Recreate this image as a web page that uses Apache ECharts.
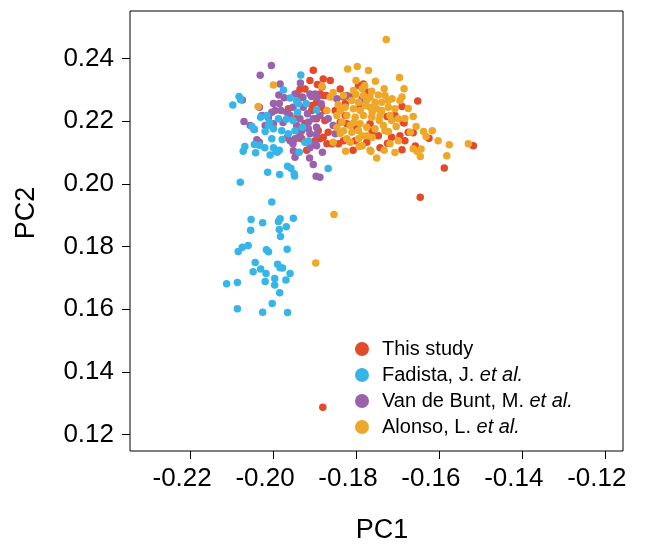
<!DOCTYPE html>
<html>
<head>
<meta charset="utf-8">
<script src="https://cdn.jsdelivr.net/npm/echarts@6/dist/echarts.min.js"></script>
<style>
  html, body { margin: 0; padding: 0; background: #fff; }
  #chart { width: 645px; height: 545px; }
</style>
</head>
<body>
<div id="chart"></div>
<script>
// PCA scores (PC1, PC2) per sample, one array per data source
const thisStudy = [
  [-0.1903,0.2363],[-0.1911,0.2330],[-0.1893,0.2317],[-0.1882,0.2309],[-0.1935,0.2302],[-0.1923,0.2303],
  [-0.1943,0.2287],[-0.1887,0.2287],[-0.1872,0.2282],[-0.1963,0.2240],[-0.1931,0.2277],[-0.1867,0.2165],
  [-0.1887,0.2144],[-0.1931,0.2144],[-0.1899,0.2138],[-0.1919,0.2107],[-0.1870,0.2128],[-0.1939,0.2147],
  [-0.1966,0.2148],[-0.1941,0.2213],[-0.1879,0.2335],[-0.1838,0.2303],[-0.1794,0.2314],[-0.1782,0.2319],
  [-0.1879,0.2282],[-0.1858,0.2279],[-0.1830,0.2277],[-0.1814,0.2277],[-0.1895,0.2261],[-0.1883,0.2245],
  [-0.1875,0.2234],[-0.1895,0.2208],[-0.1838,0.2197],[-0.1822,0.2192],[-0.1798,0.2181],[-0.1766,0.2192],
  [-0.1891,0.2170],[-0.1879,0.2149],[-0.1858,0.2128],[-0.1842,0.2128],[-0.1774,0.2133],[-0.1746,0.2154],
  [-0.1714,0.2149],[-0.1686,0.2197],[-0.1674,0.2165],[-0.1694,0.2154],[-0.1651,0.2265],[-0.1689,0.2109],
  [-0.1724,0.2130],[-0.1689,0.2247],[-0.1684,0.2194],[-0.1662,0.2163],[-0.1624,0.2146],[-0.1657,0.2121],
  [-0.1517,0.2122],[-0.1587,0.2051],[-0.1645,0.1957],[-0.1880,0.1287],[-0.1774,0.2293],[-0.1830,0.2138],
  [-0.1826,0.2256],[-0.1742,0.2115],[-0.1907,0.2234],[-0.1906,0.2250],[-0.1875,0.2202],[-0.1923,0.2193],
  [-0.1790,0.2250],[-0.1725,0.2215],[-0.1761,0.2167],[-0.1802,0.2138],[-0.1826,0.2218],[-0.1850,0.2234],
  [-0.1706,0.2218],[-0.1682,0.2138],[-0.1807,0.2107],[-0.1862,0.2330]
];

const fadista = [
  [-0.1933,0.2348],[-0.2082,0.2279],[-0.2078,0.2269],[-0.2097,0.2252],[-0.1975,0.2300],[-0.1959,0.2274],
  [-0.1943,0.2265],[-0.1939,0.2256],[-0.1920,0.2257],[-0.1941,0.2229],[-0.1895,0.2236],[-0.2030,0.2213],
  [-0.2015,0.2218],[-0.2009,0.2197],[-0.1987,0.2208],[-0.1968,0.2206],[-0.1952,0.2202],[-0.2011,0.2186],
  [-0.1999,0.2176],[-0.1979,0.2170],[-0.1963,0.2160],[-0.1947,0.2170],[-0.1929,0.2181],[-0.2051,0.2183],
  [-0.2045,0.2174],[-0.2019,0.2167],[-0.2003,0.2144],[-0.1978,0.2142],[-0.1923,0.2133],[-0.1915,0.2137],
  [-0.2068,0.2119],[-0.2072,0.2104],[-0.2045,0.2126],[-0.2033,0.2123],[-0.2020,0.2115],[-0.1999,0.2115],
  [-0.1993,0.2104],[-0.1985,0.2107],[-0.2042,0.2099],[-0.2007,0.2092],[-0.1937,0.2101],[-0.1990,0.2101],
  [-0.1965,0.2056],[-0.1957,0.2050],[-0.1949,0.2032],[-0.1948,0.2025],[-0.2013,0.2037],[-0.1984,0.2030],
  [-0.1867,0.2049],[-0.2079,0.2005],[-0.2003,0.1942],[-0.2053,0.1886],[-0.2025,0.1876],[-0.1987,0.1880],
  [-0.1983,0.1889],[-0.1951,0.1890],[-0.1968,0.1863],[-0.2054,0.1852],[-0.1985,0.1854],[-0.1982,0.1832],
  [-0.2060,0.1803],[-0.2074,0.1798],[-0.2084,0.1784],[-0.2016,0.1790],[-0.2011,0.1783],[-0.1966,0.1791],
  [-0.2043,0.1749],[-0.2030,0.1728],[-0.2048,0.1719],[-0.2017,0.1714],[-0.1989,0.1743],[-0.1983,0.1732],
  [-0.1977,0.1731],[-0.1959,0.1714],[-0.1996,0.1698],[-0.2019,0.1688],[-0.1969,0.1693],[-0.2112,0.1681],
  [-0.2086,0.1685],[-0.1996,0.1677],[-0.1984,0.1652],[-0.2002,0.1618],[-0.2086,0.1601],[-0.2025,0.1590],
  [-0.1965,0.1589]
];

const vanDeBunt = [
  [-0.2004,0.2378],[-0.2031,0.2347],[-0.1983,0.2319],[-0.1934,0.2322],[-0.1986,0.2284],[-0.1947,0.2287],
  [-0.1973,0.2275],[-0.2074,0.2268],[-0.2033,0.2245],[-0.1999,0.2257],[-0.1985,0.2257],[-0.1995,0.2234],
  [-0.1981,0.2234],[-0.1967,0.2229],[-0.1952,0.2245],[-0.1927,0.2245],[-0.1911,0.2287],[-0.1899,0.2287],
  [-0.1907,0.2279],[-0.1893,0.2277],[-0.1917,0.2224],[-0.1903,0.2208],[-0.1887,0.2218],[-0.1935,0.2208],
  [-0.1915,0.2197],[-0.1895,0.2181],[-0.1943,0.2186],[-0.1931,0.2170],[-0.1915,0.2176],[-0.1911,0.2160],
  [-0.1895,0.2158],[-0.2070,0.2199],[-0.2046,0.2174],[-0.1999,0.2192],[-0.2011,0.2211],[-0.2003,0.2229],
  [-0.2027,0.2218],[-0.1959,0.2138],[-0.1947,0.2144],[-0.1935,0.2154],[-0.1952,0.2128],[-0.1895,0.2122],
  [-0.1911,0.2115],[-0.2033,0.2133],[-0.2039,0.2141],[-0.1951,0.2106],[-0.1881,0.2101],[-0.1912,0.2083],
  [-0.1903,0.2062],[-0.1896,0.2024],[-0.1887,0.2021],[-0.1846,0.2272],[-0.1822,0.2282],[-0.1785,0.2272],
  [-0.1867,0.2208],[-0.1855,0.2186],[-0.1850,0.2160],[-0.1899,0.2128],[-0.2055,0.2186],[-0.2019,0.2186],
  [-0.1976,0.2196],[-0.1959,0.2218],[-0.1928,0.2276],[-0.1884,0.2256],[-0.1947,0.2085]
];

const alonso = [
  [-0.1727,0.2461],[-0.1820,0.2367],[-0.1797,0.2375],[-0.1770,0.2362],[-0.1695,0.2340],[-0.1753,0.2328],
  [-0.1779,0.2314],[-0.1882,0.2312],[-0.1999,0.2316],[-0.2036,0.2247],[-0.1870,0.2234],[-0.1862,0.2277],
  [-0.1830,0.2282],[-0.1806,0.2298],[-0.1762,0.2296],[-0.1746,0.2284],[-0.1766,0.2277],[-0.1782,0.2282],
  [-0.1810,0.2266],[-0.1794,0.2261],[-0.1774,0.2266],[-0.1754,0.2261],[-0.1738,0.2261],[-0.1694,0.2266],
  [-0.1689,0.2277],[-0.1826,0.2245],[-0.1806,0.2240],[-0.1790,0.2234],[-0.1766,0.2245],[-0.1750,0.2240],
  [-0.1738,0.2234],[-0.1722,0.2245],[-0.1838,0.2234],[-0.1846,0.2218],[-0.1822,0.2218],[-0.1802,0.2213],
  [-0.1782,0.2218],[-0.1762,0.2213],[-0.1742,0.2218],[-0.1718,0.2218],[-0.1698,0.2208],[-0.1714,0.2202],
  [-0.1834,0.2197],[-0.1814,0.2186],[-0.1790,0.2192],[-0.1774,0.2181],[-0.1754,0.2176],[-0.1734,0.2186],
  [-0.1794,0.2170],[-0.1810,0.2165],[-0.1830,0.2170],[-0.1822,0.2144],[-0.1794,0.2144],[-0.1814,0.2133],
  [-0.1855,0.2133],[-0.1698,0.2138],[-0.1718,0.2128],[-0.1766,0.2107],[-0.1750,0.2083],[-0.1825,0.2104],
  [-0.1669,0.2165],[-0.1662,0.2112],[-0.1662,0.2215],[-0.1637,0.2167],[-0.1631,0.2151],[-0.1575,0.2125],
  [-0.1529,0.2128],[-0.1581,0.2090],[-0.1645,0.2087],[-0.1643,0.2111],[-0.1653,0.2104],[-0.1764,0.2104],
  [-0.1792,0.2119],[-0.1853,0.1902],[-0.1897,0.1747],[-0.1730,0.2282],[-0.1706,0.2240],[-0.1785,0.2154],
  [-0.1761,0.2148],[-0.1730,0.2170],[-0.1846,0.2180],[-0.1843,0.2253],[-0.1800,0.2285],[-0.1785,0.2304],
  [-0.1732,0.2304],[-0.1713,0.2272],[-0.1703,0.2183],[-0.1682,0.2209],[-0.1722,0.2167],[-0.1773,0.2154],
  [-0.1805,0.2196],[-0.1778,0.2250],[-0.1838,0.2161],[-0.1744,0.2202],[-0.1761,0.2228],[-0.1722,0.2266],
  [-0.1674,0.2241],[-0.1655,0.2183],[-0.1616,0.2170],[-0.1602,0.2138],[-0.1785,0.2122],[-0.1732,0.2107],
  [-0.1706,0.2100],[-0.1800,0.2330],[-0.1855,0.2292],[-0.1684,0.2304]
];

const seriesNames = ['This study', 'Fadista, J. et al.', 'Van de Bunt, M. et al.', 'Alonso, L. et al.'];
const seriesColors = ['#E4492A', '#36B5E8', '#9A62AA', '#EEA829'];
const xTicks = [-0.22, -0.20, -0.18, -0.16, -0.14, -0.12];
const yTicks = [0.12, 0.14, 0.16, 0.18, 0.20, 0.22, 0.24];

const FONT = '"Liberation Sans", Arial, Helvetica, sans-serif';
const chart = echarts.init(document.getElementById('chart'), null, { renderer: 'canvas' });

// draw order: study samples first, then the published cohorts on top
const drawOrder = [
  { idx: 0, data: thisStudy },
  { idx: 2, data: vanDeBunt },
  { idx: 1, data: fadista },
  { idx: 3, data: alonso }
];

chart.setOption({
  animation: false,
  backgroundColor: '#ffffff',
  grid: {
    left: 130, right: 22, top: 11, bottom: 94,
    show: true, borderColor: '#000', borderWidth: 1, backgroundColor: 'transparent'
  },
  xAxis: {
    type: 'value',
    min: -0.2345, max: -0.1156,
    splitLine: { show: false },
    axisLine: { show: false },
    axisTick: { show: true, inside: false, length: 8, customValues: xTicks, lineStyle: { color: '#000', width: 1 } },
    axisLabel: {
      customValues: xTicks, margin: 15, color: '#000', fontFamily: FONT, fontSize: 26,
      padding: [0, 16, 0, 0],
      formatter: v => v.toFixed(2)
    }
  },
  yAxis: {
    type: 'value',
    min: 0.1147, max: 0.2552,
    splitLine: { show: false },
    axisLine: { show: false },
    axisTick: { show: true, inside: false, length: 8, customValues: yTicks, lineStyle: { color: '#000', width: 1 } },
    axisLabel: {
      customValues: yTicks, margin: 16, color: '#000', fontFamily: FONT, fontSize: 26,
      formatter: v => v.toFixed(2)
    }
  },
  legend: {
    orient: 'vertical',
    left: 350, top: 333,
    itemWidth: 30, itemHeight: 14, itemGap: 4,
    icon: 'circle',
    data: seriesNames,
    formatter: n => n.replace(' et al.', ' {i|et al.}'),
    textStyle: {
      fontFamily: FONT, fontSize: 20, color: '#000', lineHeight: 22,
      rich: { i: { fontFamily: FONT, fontSize: 20, fontStyle: 'italic', color: '#000', lineHeight: 22 } }
    }
  },
  graphic: [
    { type: 'text', x: 382, y: 531, style: { text: 'PC1', font: '27px ' + FONT, fill: '#000', align: 'center', verticalAlign: 'middle' } },
    { type: 'text', x: 27, y: 213, rotation: Math.PI / 2, style: { text: 'PC2', font: '27px ' + FONT, fill: '#000', align: 'center', verticalAlign: 'middle' } }
  ],
  series: drawOrder.map(s => ({
    name: seriesNames[s.idx],
    type: 'scatter',
    data: s.data,
    symbol: 'circle',
    symbolSize: 7.5,
    itemStyle: { color: seriesColors[s.idx], opacity: 1 },
    emphasis: { disabled: true }
  }))
});
</script>
</body>
</html>
